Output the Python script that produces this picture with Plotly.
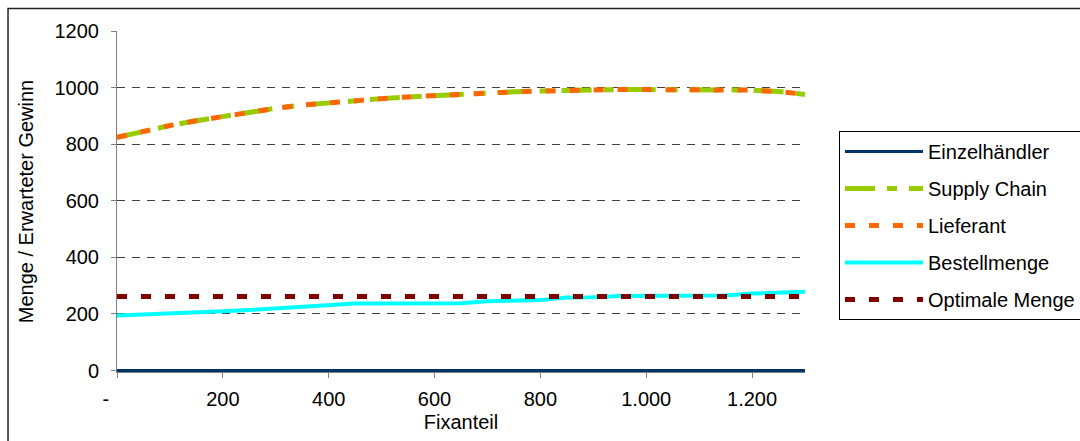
import plotly.graph_objects as go

# ---- data ----
fixanteil = [0, 50, 100, 150, 200, 250, 300, 350, 400, 450, 500, 550, 600, 650,
             700, 750, 800, 850, 900, 950, 1000, 1050, 1100, 1150, 1200, 1250, 1300]
einzelhaendler = [0] * 27
supply_chain = [824, 846, 866, 883, 898, 913, 927, 938, 947, 955, 961, 967, 972, 978,
                982, 985, 988, 991, 992, 993, 993, 993, 993, 993, 991, 986, 976]
lieferant = [824, 846, 866, 883, 898, 913, 927, 938, 947, 955, 961, 967, 972, 978,
             982, 985, 988, 991, 992, 993, 993, 993, 993, 993, 991, 986, 976]
bestellmenge = [195, 198, 202, 206, 210, 214, 219, 225, 231, 237, 237, 237, 237, 238,
                245, 247, 249, 258, 259, 264, 264, 264, 264, 265, 272, 275, 279]
optimale_menge = [262] * 27

x_tickvals = [0, 200, 400, 600, 800, 1000, 1200]
x_ticktext = ["-    ", "200", "400", "600", "800", "1.000", "1.200"]
y_tickvals = [0, 200, 400, 600, 800, 1000, 1200]

FONT = "Liberation Sans, Arial, sans-serif"

fig = go.Figure()
series = [
    ("Einzelhändler", einzelhaendler, "#003366", 3, "solid"),
    ("Supply Chain", supply_chain, "#99CC00", 5, "30px,12px,10px,12px"),
    ("Lieferant", lieferant, "#FF6600", 5, "10px,14px"),
    ("Bestellmenge", bestellmenge, "#00FFFF", 4, "solid"),
    ("Optimale Menge", optimale_menge, "#800000", 5, "10px,14px"),
]
for name, ys, color, w, dash in series:
    fig.add_trace(go.Scatter(
        x=fixanteil, y=ys, name=name, mode="lines", legendgroup=name,
        line=dict(color=color, width=w, dash=dash),
    ))

fig.update_layout(
    width=1080, height=441, autosize=False,
    margin=dict(l=117, r=275, t=31, b=69, autoexpand=False),
    paper_bgcolor="white", plot_bgcolor="white",
    font=dict(family=FONT, size=20, color="black"),
    legend=dict(
        x=1.0494, y=0.7067, xanchor="left", yanchor="top",
        bordercolor="black", borderwidth=1, bgcolor="white",
        itemwidth=78, tracegroupgap=8,
        font=dict(family=FONT, size=20, color="black"),
    ),
    xaxis=dict(
        range=[0, 1300], tickmode="array", tickvals=x_tickvals, ticktext=x_ticktext,
        ticks="outside", ticklen=5, tickcolor="#808080", tickwidth=1,
        showline=True, linecolor="#808080", linewidth=1,
        showgrid=False, zeroline=False, ticklabelstandoff=4,
        title=dict(text="Fixanteil", standoff=5, font=dict(family=FONT, size=20)),
    ),
    yaxis=dict(
        range=[-5, 1200], tickmode="array", tickvals=y_tickvals,
        ticks="outside", ticklen=5, tickcolor="#808080", tickwidth=1,
        showline=True, linecolor="#808080", linewidth=1,
        showgrid=True, gridcolor="#404040", gridwidth=1, griddash="8px,7px",
        zeroline=False, ticklabelstandoff=8,
        title=dict(text="Menge / Erwarteter Gewinn", standoff=15,
                   font=dict(family=FONT, size=20)),
    ),
    shapes=[dict(
        type="rect", xref="paper", yref="paper",
        x0=-0.1584, x1=1.6, y0=-0.35, y1=1.066,
        line=dict(color="#222222", width=1.5), fillcolor="rgba(0,0,0,0)",
        layer="below",
    )],
)

fig.write_html("out.html")
